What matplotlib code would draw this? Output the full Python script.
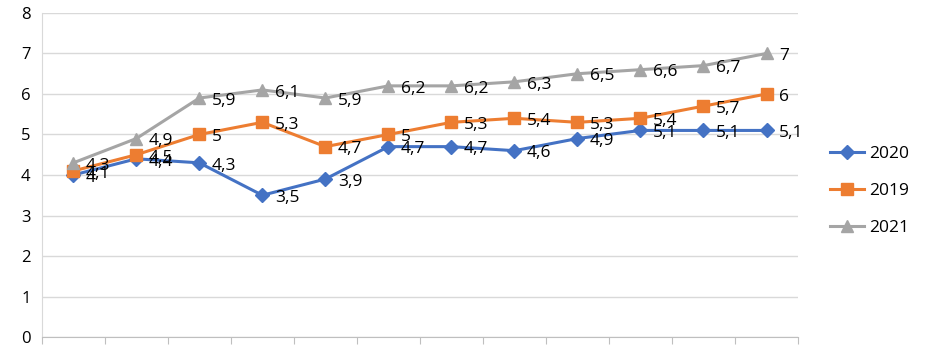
import matplotlib.pyplot as plt
import numpy as np

plt.rcParams["font.family"] = ["Open Sans", "DejaVu Sans"]

categories = list(range(1, 13))
y2020 = [4.0, 4.4, 4.3, 3.5, 3.9, 4.7, 4.7, 4.6, 4.9, 5.1, 5.1, 5.1]
y2019 = [4.1, 4.5, 5.0, 5.3, 4.7, 5.0, 5.3, 5.4, 5.3, 5.4, 5.7, 6.0]
y2021 = [4.3, 4.9, 5.9, 6.1, 5.9, 6.2, 6.2, 6.3, 6.5, 6.6, 6.7, 7.0]

series = [
    ("2020", y2020, "#4472C4", "D", 7),
    ("2019", y2019, "#ED7D31", "s", 8),
    ("2021", y2021, "#A5A5A5", "^", 9),
]

fig = plt.figure(figsize=(9.29, 3.5), dpi=100)
ax = fig.add_axes([0.045, 0.037, 0.814, 0.926])

x = np.arange(len(categories))
for name, vals, color, marker, ms in series:
    ax.plot(x, vals, color=color, marker=marker, markersize=ms, lw=2.2, label=name, zorder=3)
    for xi, v in zip(x, vals):
        label = f"{v:g}".replace(".", ",")
        ax.annotate(label, (xi, v), xytext=(9, -2), textcoords="offset points",
                    ha="left", va="center", fontsize=12.5, color="#000000", zorder=4)

ax.set_xlim(-0.5, len(categories) - 0.5)
ax.set_ylim(0, 8)
ax.set_yticks(range(0, 9))
ax.tick_params(axis="y", labelsize=12, length=0, pad=8)
ax.set_xticks(np.arange(-0.5, len(categories), 1.0))
ax.set_xticklabels([])
ax.tick_params(axis="x", length=5, color="#bfbfbf", direction="out")
ax.grid(axis="y", color="#d9d9d9", lw=1)
ax.set_axisbelow(True)
for side in ["top", "right"]:
    ax.spines[side].set_visible(False)
ax.spines["left"].set_color("#d9d9d9")
ax.spines["bottom"].set_color("#bfbfbf")

fig.legend(loc="center left", bbox_to_anchor=(0.893, 0.455), frameon=False,
           fontsize=12.5, handlelength=2.0, handletextpad=0.3, labelspacing=1.2,
           borderaxespad=0.0, borderpad=0.0)

fig.savefig("out.png", dpi=100)
